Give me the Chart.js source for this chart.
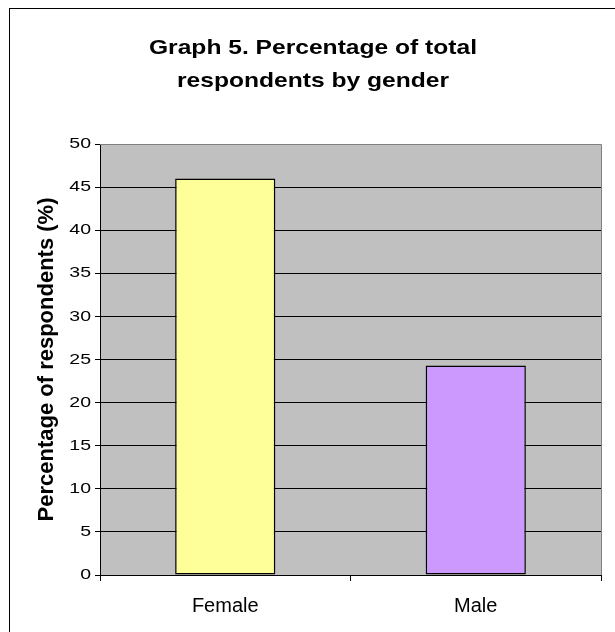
<!DOCTYPE html>
<html>
<head>
<meta charset="utf-8">
<script src="https://cdn.jsdelivr.net/npm/chart.js@4/dist/chart.umd.min.js"></script>
<style>
  html, body { margin: 0; padding: 0; background: #fff; }
  canvas { display: block; }
</style>
</head>
<body>
<canvas id="genderChart" width="615" height="632"></canvas>
<script>
// Chart data
const categories = ['Female', 'Male'];
const percentValues = [46, 24.3];
const barColors = ['#FFFF99', '#CC99FF'];
const titleLines = ['Graph 5. Percentage of total', 'respondents by gender'];
const yAxisTitle = 'Percentage of respondents (%)';

const FONT = '"Liberation Sans", Arial, sans-serif';

// The source chart has its horizontal text slightly widened, so the title
// and the value labels are drawn here with a horizontal stretch
function stretchedText(ctx, text, x, y, font, sx, align, baseline) {
    ctx.save();
    ctx.translate(x, y);
    ctx.scale(sx, 1);
    ctx.font = font;
    ctx.fillStyle = '#000';
    ctx.textAlign = align;
    ctx.textBaseline = baseline;
    ctx.fillText(text, 0, 0);
    ctx.restore();
}

// Outer frame, grey plot background, title and y tick labels
const decorations = {
    id: 'decorations',
    beforeDraw(chart) {
        const ctx = chart.ctx;
        const a = chart.chartArea;
        ctx.save();
        ctx.fillStyle = '#fff';
        ctx.fillRect(0, 0, chart.width, chart.height);
        ctx.strokeStyle = '#000';
        ctx.lineWidth = 1;
        ctx.strokeRect(9.5, 8.5, 800, 800);
        ctx.fillStyle = '#C0C0C0';
        ctx.fillRect(a.left, a.top, a.right - a.left, a.bottom - a.top);
        ctx.restore();
    },
    afterDatasetsDraw(chart) {
        const ctx = chart.ctx;
        const a = chart.chartArea;
        ctx.save();
        ctx.strokeStyle = '#808080';
        ctx.lineWidth = 1;
        ctx.beginPath();
        ctx.moveTo(a.left, a.top + 0.5);
        ctx.lineTo(a.right + 0.5, a.top + 0.5);
        ctx.lineTo(a.right + 0.5, a.bottom);
        ctx.stroke();
        ctx.restore();
    },
    afterDraw(chart) {
        const ctx = chart.ctx;
        const titleFont = 'bold 20.5px ' + FONT;
        stretchedText(ctx, titleLines[0], 313, 54, titleFont, 1.2, 'center', 'alphabetic');
        stretchedText(ctx, titleLines[1], 313, 87, titleFont, 1.2, 'center', 'alphabetic');

        const yScale = chart.scales.y;
        yScale.ticks.forEach((t) => {
            const y = yScale.getPixelForValue(t.value);
            stretchedText(ctx, String(t.value), 91, y, '15px ' + FONT, 1.3, 'right', 'middle');
        });
    }
};

new Chart(document.getElementById('genderChart'), {
    type: 'bar',
    data: {
        labels: categories,
        datasets: [{
            data: percentValues,
            backgroundColor: barColors,
            borderColor: '#000',
            borderWidth: 1.5,
            borderSkipped: false,
            barPercentage: 0.4,
            categoryPercentage: 1
        }]
    },
    options: {
        responsive: false,
        animation: false,
        events: [],
        layout: {
            padding: { left: 0, right: 14, top: 144, bottom: 0 }
        },
        plugins: {
            legend: { display: false },
            tooltip: { enabled: false },
            title: { display: false }
        },
        scales: {
            x: {
                afterFit(scale) { scale.height = 57; },
                grid: {
                    offset: true,
                    drawOnChartArea: false,
                    color: '#000',
                    tickLength: 6
                },
                border: { color: '#000', width: 1 },
                ticks: {
                    color: '#000',
                    padding: 13,
                    font: { family: FONT, size: 20 }
                }
            },
            y: {
                min: 0,
                max: 50,
                afterFit(scale) { scale.width = 100; },
                grid: {
                    color: '#000',
                    tickColor: '#000',
                    tickLength: 5,
                    drawOnChartArea: true
                },
                border: { color: '#000', width: 1 },
                ticks: {
                    display: false,
                    stepSize: 5
                },
                title: {
                    display: true,
                    text: yAxisTitle,
                    color: '#000',
                    font: { family: FONT, size: 22, weight: 'bold', lineHeight: 1.2 },
                    padding: { top: 34, bottom: 0 }
                }
            }
        }
    },
    plugins: [decorations]
});
</script>
</body>
</html>
